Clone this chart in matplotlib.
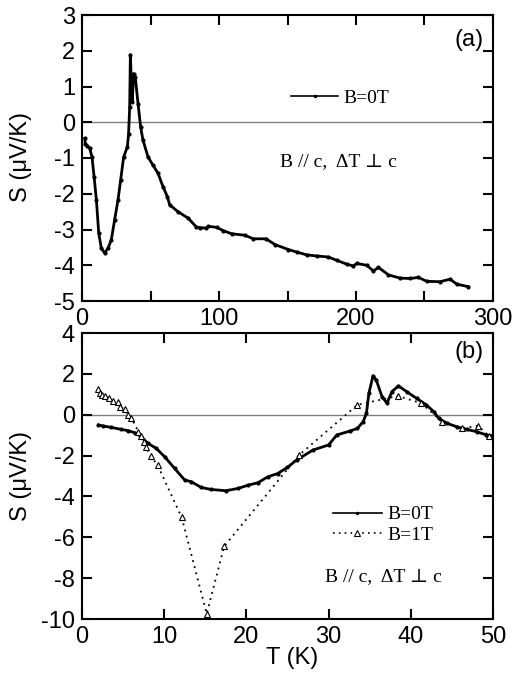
import matplotlib
matplotlib.use("Agg")
import matplotlib.pyplot as plt
from matplotlib.lines import Line2D
from matplotlib.ticker import MultipleLocator

plt.rcParams['font.family'] = ['Liberation Sans', 'DejaVu Sans']
plt.rcParams['axes.unicode_minus'] = False

# ---- Panel (a): B = 0 T, full temperature range ----
T_a = [2.0, 2.4, 4.0, 5.6, 7.3, 8.8, 10.5, 12.2, 14.1, 16.5, 19.0, 21.4, 23.8, 26.3,
       28.2, 30.4, 33.1, 34.0, 34.8, 35.3, 36.0, 36.7, 37.7, 38.9, 40.9, 42.8, 44.5,
       48.2, 51.8, 55.5, 59.1, 62.3, 64.0, 70.0, 77.4, 83.5, 86.1, 90.8, 92.2, 98.2,
       103.0, 109.2, 118.9, 125.0, 134.3, 140.8, 150.6, 156.7, 164.0, 171.3, 179.8,
       185.9, 193.2, 198.1, 200.5, 207.8, 212.7, 216.4, 223.7, 232.2, 239.5, 245.6,
       251.7, 261.4, 268.7, 273.6, 282.1]
S_a = [-0.45, -0.60, -0.66, -0.73, -0.97, -1.52, -2.17, -3.10, -3.52, -3.66, -3.52,
       -3.29, -2.73, -2.17, -1.62, -0.97, -0.69, -0.32, 0.43, 1.89, 1.17, 0.57, 1.36,
       1.26, 0.52, -0.13, -0.50, -0.97, -1.20, -1.43, -1.80, -2.08, -2.31, -2.50, -2.68,
       -2.93, -2.95, -2.96, -2.91, -2.94, -3.03, -3.12, -3.16, -3.26, -3.26, -3.42,
       -3.56, -3.63, -3.71, -3.74, -3.77, -3.86, -3.97, -4.02, -3.95, -4.00, -4.16,
       -4.06, -4.27, -4.36, -4.37, -4.34, -4.45, -4.46, -4.39, -4.53, -4.60]

# ---- Panel (b): low temperature, B = 0 T ----
T_b0 = [2.0, 2.55, 3.57, 4.79, 5.6, 6.4, 7.2, 8.03, 9.04, 10.06, 11.27, 12.5, 13.3,
        14.5, 15.7, 17.5, 18.98, 20.2, 21.4, 22.6, 23.8, 24.98, 26.1, 28.1, 30.0, 31.0,
        32.6, 33.5, 34.2, 34.6, 34.9, 35.4, 35.8, 36.5, 37.1, 37.7, 38.5, 39.5, 40.7,
        41.9, 42.8, 43.4, 44.4, 45.6, 46.8, 48.0, 49.2, 49.8]
S_b0 = [-0.50, -0.55, -0.62, -0.72, -0.78, -0.88, -1.08, -1.40, -1.65, -2.06, -2.63,
        -3.20, -3.28, -3.56, -3.66, -3.72, -3.61, -3.45, -3.33, -3.04, -2.88, -2.58,
        -2.22, -1.73, -1.48, -0.99, -0.80, -0.67, -0.34, 0.06, 1.05, 1.90, 1.70, 0.88,
        0.56, 1.13, 1.41, 1.13, 0.80, 0.48, 0.15, -0.18, -0.42, -0.59, -0.72, -0.83,
        -0.99, -1.04]

# ---- Panel (b): B = 1 T ----
T_b1 = [2.0, 2.15, 2.43, 2.76, 3.24, 3.77, 4.38, 4.58, 5.19, 5.6, 6.0, 6.85, 7.22,
        7.5, 7.8, 8.35, 9.2, 12.13, 15.17, 17.3, 26.4, 33.5, 38.4, 41.3, 43.8, 46.2,
        48.2, 49.5]
S_b1 = [1.25, 1.05, 0.97, 0.92, 0.80, 0.69, 0.61, 0.40, 0.26, -0.01, -0.14, -0.83,
        -1.03, -1.32, -1.60, -2.02, -2.47, -5.03, -9.74, -6.44, -1.98, 0.48, 0.92,
        0.56, -0.34, -0.67, -0.55, -1.04]

serif = ['Liberation Serif', 'DejaVu Serif']
W, H = 516, 675
fig = plt.figure(figsize=(W / 100, H / 100), dpi=100)

def ax_rect(l, t, r, b):
    return [l / W, 1 - b / H, (r - l) / W, (b - t) / H]

ax1 = fig.add_axes(ax_rect(82, 15, 493, 301))
ax2 = fig.add_axes(ax_rect(82, 333, 493, 619))

for ax in (ax1, ax2):
    for s in ax.spines.values():
        s.set_linewidth(1.5)
    ax.tick_params(which='both', direction='in', top=True, right=True,
                   length=7, width=1.5, labelsize=17, pad=5)
    ax.axhline(0, color='0.5', lw=1.0, zorder=1)

# panel (a)
ax1.plot(T_a, S_a, '-', color='black', lw=2.0, marker='.', ms=4, zorder=3)
ax1.set_xlim(0, 300)
ax1.set_ylim(-5, 3)
ax1.xaxis.set_major_locator(MultipleLocator(100))
ax1.xaxis.set_minor_locator(MultipleLocator(50))
ax1.yaxis.set_major_locator(MultipleLocator(1))
ax1.text(0.976, 0.913, '(a)', transform=ax1.transAxes, ha='right', va='center',
         fontsize=17)
ax1.text(0.482, 0.486, 'B // c,  ΔT ⊥ c', transform=ax1.transAxes, ha='left',
         va='center', fontsize=14, family=serif)
h0a = Line2D([], [], color='black', lw=1.2, marker='.', ms=3)
ax1.legend([h0a], ['B=0T'], loc='center left', bbox_to_anchor=(0.509, 0.71),
           frameon=False, prop={'family': serif, 'size': 14},
           handlelength=2.4, handletextpad=0.3, borderpad=0, borderaxespad=0)

# panel (b)
ax2.plot(T_b0, S_b0, '-', color='black', lw=2.0, marker='.', ms=4, zorder=3)
ax2.plot(T_b1, S_b1, color='black', lw=1.3, linestyle=(0, (1, 2.5)),
         marker='^', ms=4.5, mfc='white', mec='black', mew=0.8, zorder=4)
ax2.set_xlim(0, 50)
ax2.set_ylim(-10, 4)
ax2.xaxis.set_major_locator(MultipleLocator(10))
ax2.yaxis.set_major_locator(MultipleLocator(2))
ax2.text(0.976, 0.934, '(b)', transform=ax2.transAxes, ha='right', va='center',
         fontsize=17)
ax2.text(0.591, 0.147, 'B // c,  ΔT ⊥ c', transform=ax2.transAxes, ha='left',
         va='center', fontsize=14, family=serif)
h0 = Line2D([], [], color='black', lw=1.2, marker='.', ms=3)
h1 = Line2D([], [], color='black', lw=1.2, linestyle=(0, (1, 2.5)), marker='^',
            ms=4.5, mfc='white', mec='black', mew=0.8)
ax2.legend([h0, h1], ['B=0T', 'B=1T'], loc='center left',
           bbox_to_anchor=(0.611, 0.329), frameon=False,
           prop={'family': serif, 'size': 14}, handlelength=2.5,
           handletextpad=0.3, borderpad=0, borderaxespad=0, labelspacing=0.15)

# axis labels
fig.text(21 / W, 1 - 157 / H, 'S (μV/K)', rotation=90, ha='center', va='center',
         fontsize=17)
fig.text(21 / W, 1 - 476 / H, 'S (μV/K)', rotation=90, ha='center', va='center',
         fontsize=17)
fig.text(292 / W, 1 - 658 / H, 'T (K)', ha='center', va='center', fontsize=17)

fig.savefig('out.png', dpi=100)
